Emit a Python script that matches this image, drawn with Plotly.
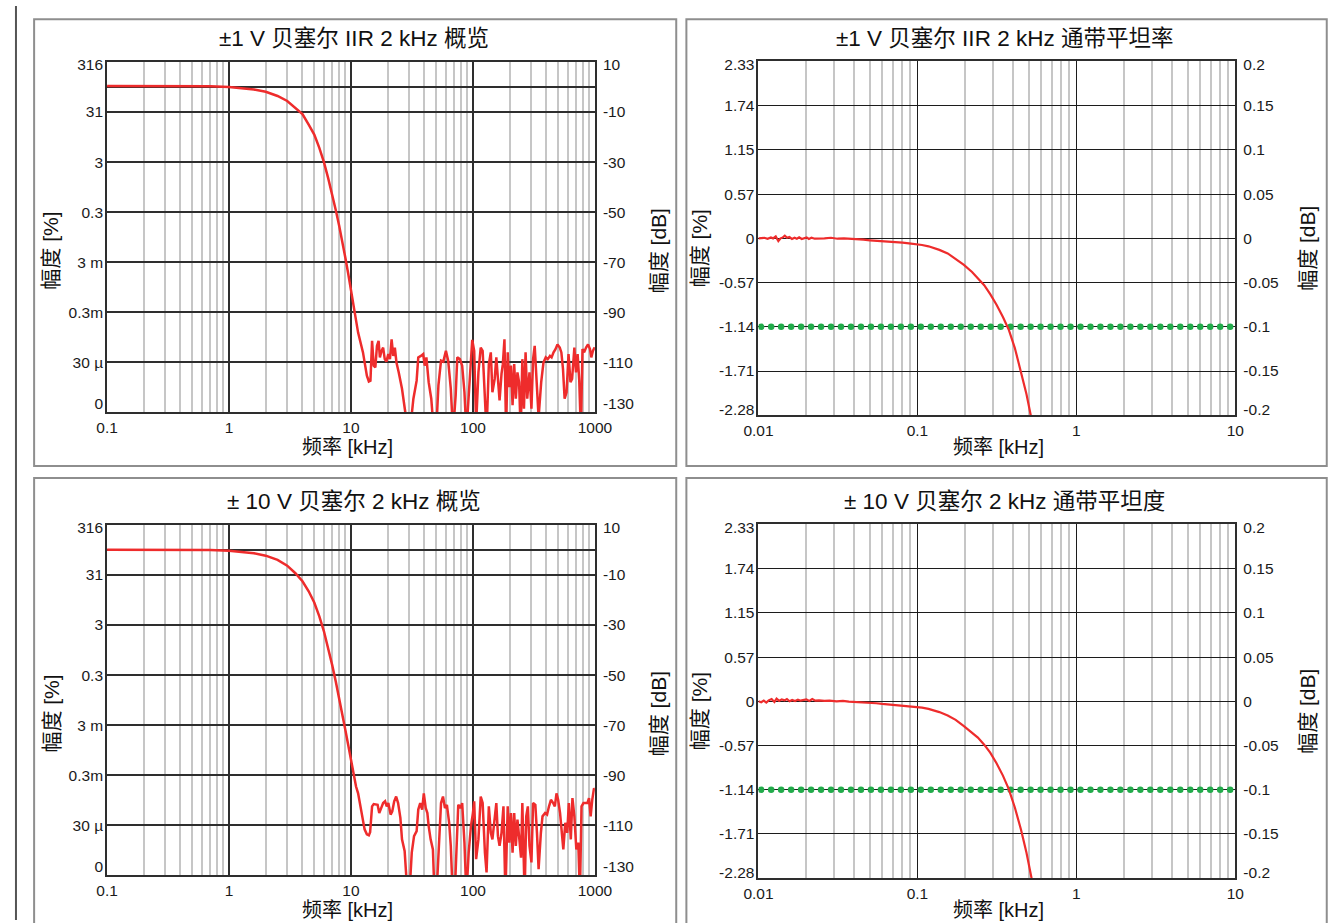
import numpy as np
import plotly.graph_objects as go

W, H = 1335, 923
FONT = "Liberation Sans, Arial, Noto Sans CJK SC, sans-serif"

# ---------------- data ----------------
# overview panels: frequency [kHz], magnitude [dB]
roll_freq = [0.1, 0.2, 0.3, 0.5, 0.7, 1.0, 1.3, 1.6, 2.0, 2.5, 3.0, 3.5, 4.0, 4.5, 5.0,
             5.5, 6.0, 6.5, 7.0, 7.5, 8.0, 8.5, 9.0, 9.5, 10.0, 10.5, 11.0, 11.44]
roll1_db = [0.4, 0.4, 0.4, 0.4, 0.3, 0.0, -0.5, -1.0, -1.9, -3.6, -5.6, -8.4, -10.8, -15.0, -19.0,
            -24.3, -30.0, -36.4, -42.6, -49.1, -55.4, -61.6, -68.3, -74.7, -80.8, -86.9, -93.0, -98.1]
roll2_db = [0.1, 0.1, 0.1, 0.1, 0.0, -0.3, -0.8, -1.3, -2.3, -4.0, -6.3, -9.3, -12.5, -16.5, -21.0,
            -26.5, -32.5, -39.0, -45.8, -52.5, -59.0, -65.5, -72.0, -78.0, -84.0, -89.5, -94.5, -97.2]

noise1_freq = [12.54, 13.50, 14.01, 14.44, 14.89, 15.36, 15.84, 16.33, 16.84, 17.26, 17.80, 18.35,
               18.92, 19.51, 20.24, 20.87, 21.53, 22.20, 22.89, 23.60, 24.64, 26.20, 27.86, 28.73,
               30.55, 32.49, 34.54, 35.62, 37.41, 39.06, 40.27, 41.53, 43.35, 45.53, 47.83, 49.93,
               52.12, 54.74, 57.15, 60.03, 62.66, 65.81, 68.71, 72.17, 74.41, 78.16, 81.59, 85.18,
               88.37, 92.26, 96.31, 98.70, 102.4, 106.2, 110.9, 115.8, 120.1, 125.4, 129.3, 135.0,
               140.1, 144.4, 150.8, 155.5, 160.3, 165.3, 171.5, 175.8, 181.3, 187.0, 192.8, 198.8,
               205.0, 211.3, 217.9, 224.7, 231.7, 238.9, 246.4, 254.1, 262.0, 270.2, 278.6, 290.9,
               301.8, 311.2, 320.9, 335.0, 345.4, 362.8, 378.8, 395.4, 410.2, 428.3, 441.6, 458.1,
               475.3, 493.2, 515.0, 530.9, 547.4, 564.5, 585.8, 607.8, 630.6, 650.1, 678.7, 699.8,
               721.6, 744.1, 767.4, 791.2, 815.9, 846.5, 878.3, 911.2, 934.0, 962.9, 993.1, 1000]
noise1_db = [-106.0, -115.3, -117.6, -117.3, -101.4, -111.3, -112.0, -103.4, -101.4, -108.0, -105.4, -104.1,
             -108.7, -109.7, -106.7, -108.7, -100.8, -107.4, -104.1, -110.0, -114.0, -120.5, -129.8, -138,
             -137, -124.5, -117.3, -108.0, -107.4, -106.7, -111.3, -108.0, -117.9, -124.5, -138, -138,
             -119.2, -109.3, -109.7, -105.4, -109.3, -120.5, -138, -123.2, -108.0, -108.7, -111.3, -121.9,
             -138, -121.9, -106.0, -101.0, -105.4, -135, -114.0, -104.1, -105.4, -121.9, -138, -110.7,
             -106.0, -121.9, -116.6, -108.0, -117.9, -125.2, -114.6, -110.7, -100.8, -138, -106.0, -119.9,
             -111.3, -127.1, -110.7, -124.5, -114.0, -117.9, -138, -108.7, -128.5, -106.0, -124.5, -114.0,
             -128.5, -108.7, -103.4, -119.2, -132, -117.9, -110.0, -108.0, -108.7, -107.4, -108.0, -106.0,
             -104.7, -102.8, -104.1, -106.0, -112.6, -124.5, -121.9, -106.7, -117.9, -116.6, -104.1, -114.0,
             -106.7, -117.3, -138, -104.7, -106.0, -104.1, -102.8, -104.7, -108.0, -105.4, -104.1, -104.5]

noise2_freq = [12.16, 12.93, 13.50, 14.01, 14.35, 14.89, 15.36, 16.03, 16.53, 17.05, 17.58, 18.35,
               19.04, 19.63, 20.24, 21.13, 21.80, 22.61, 23.46, 24.34, 25.41, 26.20, 27.53, 28.38,
               29.09, 30.18, 31.50, 32.89, 34.54, 35.62, 36.96, 38.34, 39.54, 41.02, 42.30, 43.35,
               44.98, 46.96, 48.42, 50.23, 52.45, 54.74, 56.80, 58.93, 61.14, 63.83, 65.81, 68.29,
               70.86, 73.52, 75.80, 79.14, 81.59, 85.18, 88.37, 92.26, 96.31, 99.93, 102.4, 106.2,
               110.9, 115.8, 120.1, 125.4, 129.3, 135.0, 140.1, 144.4, 150.8, 155.5, 160.3, 165.3,
               171.5, 177.9, 184.6, 192.8, 198.8, 205.0, 211.3, 217.9, 224.7, 231.7, 238.9, 247.9,
               254.1, 265.3, 273.5, 282.0, 290.9, 301.8, 311.2, 324.9, 335.0, 345.4, 360.6, 371.9,
               390.6, 405.2, 420.5, 436.2, 455.3, 469.5, 484.2, 499.4, 518.0, 534.2, 550.8, 571.5,
               592.9, 611.5, 634.5, 654.3, 678.7, 704.2, 730.6, 753.4, 776.9, 805.9, 836.2, 867.5,
               894.6, 922.6, 951.1, 981.1, 1000]
noise2_db = [-103.7, -111.6, -113.6, -114.0, -112.7, -102.4, -101.5, -101.8, -101.8, -105.1, -103.1, -101.1,
             -100.4, -102.4, -101.1, -105.7, -104.4, -100.4, -98.5, -101.1, -107.0, -115.6, -120.2, -127.5,
             -138, -137, -120.9, -114.3, -112.3, -103.7, -101.1, -103.7, -97.2, -103.1, -105.1, -110.3,
             -115.6, -119.6, -138, -138, -118.2, -101.1, -98.5, -103.1, -101.8, -109.0, -118.2, -138,
             -138, -113.0, -101.8, -103.1, -101.1, -116.9, -138, -120.9, -110.3, -105.1, -100.4, -123.5,
             -115.6, -98.5, -101.1, -120.9, -128.8, -102.4, -113.0, -115.6, -107.7, -101.1, -114.3, -118.2,
             -113.0, -102.4, -138, -102.4, -116.9, -105.1, -120.9, -105.1, -118.2, -107.7, -114.3, -122.9,
             -101.1, -138, -106.4, -102.4, -118.2, -124.8, -101.1, -101.8, -113.0, -127.5, -113.0, -106.4,
             -105.1, -105.7, -102.4, -99.8, -101.1, -102.4, -97.2, -99.8, -105.1, -114.3, -119.6, -109.0,
             -113.0, -101.1, -115.6, -99.1, -106.4, -119.6, -116.9, -138, -102.4, -101.1, -101.1, -101.1,
             -99.1, -106.4, -99.8, -95.5, -95.3]

# passband-flatness panels: frequency [kHz], magnitude [dB]
pb1_freq = [0.01, 0.01015, 0.01089, 0.01141, 0.01197, 0.01236, 0.01284, 0.01334, 0.01378, 0.01424,
            0.01465, 0.01514, 0.01565, 0.01625, 0.01687, 0.01744, 0.01803, 0.01872, 0.01944, 0.02009,
            0.02076, 0.02156, 0.02259, 0.02368, 0.02602, 0.02859, 0.03142, 0.03452, 0.03793, 0.04168,
            0.04579, 0.05031, 0.05528, 0.06074, 0.06674, 0.07333, 0.08057, 0.08852, 0.09726, 0.1069,
            0.1174, 0.1374, 0.155, 0.174, 0.196, 0.2206, 0.24, 0.263, 0.287, 0.3145, 0.345, 0.375,
            0.41, 0.448, 0.485, 0.519, 0.56]
pb1_db = [0.0, 0.0, 0.0007, -0.0004, 0.0011, 0.0, 0.0022, -0.003, 0.0, 0.0011,
          0.003, 0.0007, 0.0015, -0.0007, 0.0007, -0.0004, 0.0011, -0.0007, 0.0007, 0.0011,
          -0.0007, 0.0007, -0.0004, 0.0, 0.0, 0.0007, -0.0004, 0.0, -0.0004, -0.0004,
          -0.0015, -0.0022, -0.0026, -0.0034, -0.0041, -0.0045, -0.0049, -0.0056, -0.0064, -0.0075,
          -0.009, -0.013, -0.017, -0.023, -0.030, -0.038, -0.045, -0.053, -0.063, -0.075, -0.089, -0.103,
          -0.124, -0.150, -0.176, -0.202, -0.235]

pb2_freq = [0.01, 0.0104, 0.0108, 0.0112, 0.0116, 0.0121, 0.0126, 0.013, 0.0135, 0.014,
            0.0146, 0.0151, 0.0157, 0.0163, 0.017, 0.0177, 0.0184, 0.0192, 0.02, 0.0209,
            0.0218, 0.0228, 0.024, 0.026, 0.028, 0.031, 0.034, 0.037, 0.041, 0.045,
            0.05, 0.055, 0.06, 0.067, 0.073, 0.08, 0.088, 0.097, 0.1069, 0.1174,
            0.1374, 0.155, 0.174, 0.196, 0.2206, 0.24, 0.263, 0.287, 0.3145, 0.345,
            0.375, 0.41, 0.448, 0.485, 0.525, 0.56]
pb2_db = [0.0, -0.0011, 0.0007, -0.0015, 0.0011, 0.0026, -0.0007, 0.003, 0.0004, 0.0022,
          0.0011, 0.0026, 0.0, 0.0015, 0.0004, 0.0019, 0.0007, 0.0011, 0.0022, 0.0004,
          0.0026, 0.0007, 0.0011, 0.0004, 0.0007, 0.0, 0.0004, -0.0004, -0.0007, -0.0011,
          -0.0019, -0.0022, -0.003, -0.0037, -0.0041, -0.0049, -0.0056, -0.0064, -0.0072, -0.0086,
          -0.0122, -0.016, -0.021, -0.028, -0.035, -0.041, -0.049, -0.058, -0.070, -0.084,
          -0.099, -0.12, -0.145, -0.171, -0.202, -0.23]

LIMIT_DB = -0.1  # green pass-band limit line
LIMIT_SPAN = (0.0104, 9.27)
LIMIT_DOTS = 48

# tick labels
ov_grid = [0, -10, -30, -50, -70, -90, -110]
ov_left_text = ["316", "31", "3", "0.3", "3 m", "0.3m", "30 µ", "0"]
ov_right_text = ["10", "-10", "-30", "-50", "-70", "-90", "-110", "-130"]
ov_label_vals = [8.8, -10, -30, -50, -70, -90, -110, -126.6]
pb_grid = [0.15, 0.1, 0.05, 0, -0.05, -0.1, -0.15]
pb_left_text = ["2.33", "1.74", "1.15", "0.57", "0", "-0.57", "-1.14", "-1.71", "-2.28"]
pb_right_text = ["0.2", "0.15", "0.1", "0.05", "0", "-0.05", "-0.1", "-0.15", "-0.2"]
pb_label_vals = [0.1966, 0.15, 0.1, 0.05, 0, -0.05, -0.1, -0.15, -0.194]

ov_x_vals = [0.1, 1, 10, 100, 1000]
ov_x_text = ["0.1", "1", "10", "100", "1000"]
pb_x_vals = [0.01, 0.1, 1, 10]
pb_x_text = ["0.01", "0.1", "1", "10"]

titles = ["±1 V 贝塞尔 IIR 2 kHz 概览", "±1 V 贝塞尔 IIR 2 kHz 通带平坦率",
          "± 10 V 贝塞尔 2 kHz 概览", "± 10 V 贝塞尔 2 kHz 通带平坦度"]
x_title = "频率 [kHz]"
y_left_title = "幅度 [%]"
y_right_title = "幅度 [dB]"


# ---------------- layout helpers (page pixels -> paper) ----------------
def PX(px):
    return px / W


def PY(py):
    return 1 - py / H


DY = 467.5  # vertical offset of lower row
panels = [
    dict(kind="ov", xpx=(94.4, 594.6), ypx=(56.5, 410.5), f=roll_freq + noise1_freq, d=roll1_db + noise1_db,
         title=titles[0], tpos=(348, 33), xt=(341, 445), yl=(37, 247), yr=(660, 247)),
    dict(kind="pb", xpx=(762.3, 1251.3), ypx=(56.0, 413.3), f=pb1_freq, d=pb1_db,
         title=titles[1], tpos=(1015, 33), xt=(1008, 445), yl=(702, 245), yr=(1325, 245)),
    dict(kind="ov", xpx=(94.4, 594.6), ypx=(56.5 + DY, 410.5 + DY), f=roll_freq + noise2_freq, d=roll2_db + noise2_db,
         title=titles[2], tpos=(348, 33 + DY), xt=(341, 445 + DY), yl=(37, 247 + DY), yr=(660, 247 + DY)),
    dict(kind="pb", xpx=(762.3, 1251.3), ypx=(56.0 + DY, 413.3 + DY), f=pb2_freq, d=pb2_db,
         title=titles[3], tpos=(1015, 33 + DY), xt=(1008, 445 + DY), yl=(702, 245 + DY), yr=(1325, 245 + DY)),
]

fig = go.Figure()
layout = {}
annotations = []
tick_font = dict(family=FONT, size=15.5, color="#1a1a1a")

for i, p in enumerate(panels):
    xn = "x" if i == 0 else f"x{i + 1}"
    xk = "xaxis" if i == 0 else f"xaxis{i + 1}"
    yg, yl, yr = 3 * i + 1, 3 * i + 2, 3 * i + 3
    ygn = "y" if yg == 1 else f"y{yg}"
    ygk = "yaxis" if yg == 1 else f"yaxis{yg}"
    ov = p["kind"] == "ov"
    decades = (-1, 0, 1, 2) if ov else (-2, -1, 0)
    minor_vals = [m * 10.0 ** e for e in decades for m in range(2, 10)]
    yrange = [-130, 10] if ov else [-0.2, 0.2]
    major_col = "#2e2e2e" if ov else "#1c1c1c"
    major_w = 1.8 if ov else 1.2
    frame_w = 2 if ov else 1.6

    layout[xk] = dict(
        type="log", range=[-1, 3] if ov else [-2, 1],
        domain=[PX(p["xpx"][0]), PX(p["xpx"][1])], anchor=ygn,
        tickmode="array", tickvals=ov_x_vals if ov else pb_x_vals,
        ticktext=ov_x_text if ov else pb_x_text, ticks="", tickfont=tick_font,
        ticklabelstandoff=0,
        showgrid=True, gridcolor=major_col, gridwidth=major_w,
        minor=dict(tickmode="array", tickvals=minor_vals, showgrid=True,
                   gridcolor="#c6c6c6", gridwidth=1.5, ticks=""),
        showline=True, mirror=True, linecolor="#2e2e2e", linewidth=frame_w,
        zeroline=False, fixedrange=True,
    )
    layout[ygk] = dict(
        range=yrange, domain=[PY(p["ypx"][1]), PY(p["ypx"][0])], anchor=xn,
        tickmode="array", tickvals=ov_grid if ov else pb_grid, showticklabels=False, ticks="",
        showgrid=True, gridcolor=major_col, gridwidth=major_w,
        showline=True, mirror=True, linecolor="#2e2e2e", linewidth=frame_w,
        zeroline=False, fixedrange=True,
    )
    for num, side, txt in ((yl, "left", ov_left_text if ov else pb_left_text),
                           (yr, "right", ov_right_text if ov else pb_right_text)):
        layout[f"yaxis{num}"] = dict(
            range=yrange, overlaying=ygn, anchor=xn, side=side,
            tickmode="array", tickvals=ov_label_vals if ov else pb_label_vals, ticktext=txt,
            ticks="", tickfont=tick_font, ticklabelstandoff=3 if side == "left" else 7,
            showgrid=False, showline=False, zeroline=False, fixedrange=True,
        )
        fig.add_trace(go.Scatter(x=[], y=[], xaxis=xn, yaxis=f"y{num}", showlegend=False,
                                 hoverinfo="skip"))

    if not ov:
        dots_x = np.geomspace(LIMIT_SPAN[0], LIMIT_SPAN[1], LIMIT_DOTS)
        fig.add_trace(go.Scatter(x=dots_x, y=[LIMIT_DB] * LIMIT_DOTS, mode="markers",
                                 marker=dict(color="#22ab4b", size=6.5, line=dict(width=0)),
                                 xaxis=xn, yaxis=ygn, showlegend=False, hoverinfo="skip"))
    fig.add_trace(go.Scatter(x=p["f"], y=p["d"], mode="lines",
                             line=dict(color="#ee2c2c", width=2.5 if ov else 2.2),
                             xaxis=xn, yaxis=ygn, showlegend=False))

    annotations += [
        dict(text=p["title"], x=PX(p["tpos"][0]), y=PY(p["tpos"][1]), xref="paper", yref="paper",
             showarrow=False, xanchor="center", yanchor="middle",
             font=dict(family=FONT, size=22.5, color="#111")),
        dict(text=x_title, x=PX(p["xt"][0]), y=PY(p["xt"][1]), xref="paper", yref="paper",
             showarrow=False, xanchor="center", yanchor="middle", borderpad=0,
             font=dict(family=FONT, size=20, color="#111")),
        dict(text=y_left_title, x=PX(p["yl"][0]), y=PY(p["yl"][1]), xref="paper", yref="paper",
             showarrow=False, xanchor="center", yanchor="middle", textangle=-90,
             font=dict(family=FONT, size=21, color="#111")),
        dict(text=y_right_title, x=PX(p["yr"][0]), y=PY(p["yr"][1]), xref="paper", yref="paper",
             showarrow=False, xanchor="center", yanchor="middle", textangle=-90,
             font=dict(family=FONT, size=21, color="#111")),
    ]

boxes = [(19.6, 13.3, 678, 464.5), (688.4, 13.3, 1345, 464.5),
         (19.6, 476.7, 678, 940), (688.4, 476.7, 1345, 940)]
shapes = [dict(type="rect", xref="paper", yref="paper", x0=PX(a), x1=PX(c), y0=PY(d), y1=PY(b),
               line=dict(color="#8e8e8e", width=2), fillcolor="rgba(0,0,0,0)", layer="below")
          for a, b, c, d in boxes]
shapes.append(dict(type="line", xref="paper", yref="paper", x0=PX(1), x1=PX(1), y0=0, y1=1,
                   line=dict(color="#555555", width=2)))

fig.update_layout(
    width=W, height=H, margin=dict(l=0, r=0, t=0, b=0),
    paper_bgcolor="white", plot_bgcolor="white",
    font=dict(family=FONT, color="#111"),
    annotations=annotations, shapes=shapes, showlegend=False,
    **layout,
)

fig.write_html("out.html", config={"displayModeBar": False},
               post_script="document.body.style.margin='0';document.body.style.overflow='hidden';")
